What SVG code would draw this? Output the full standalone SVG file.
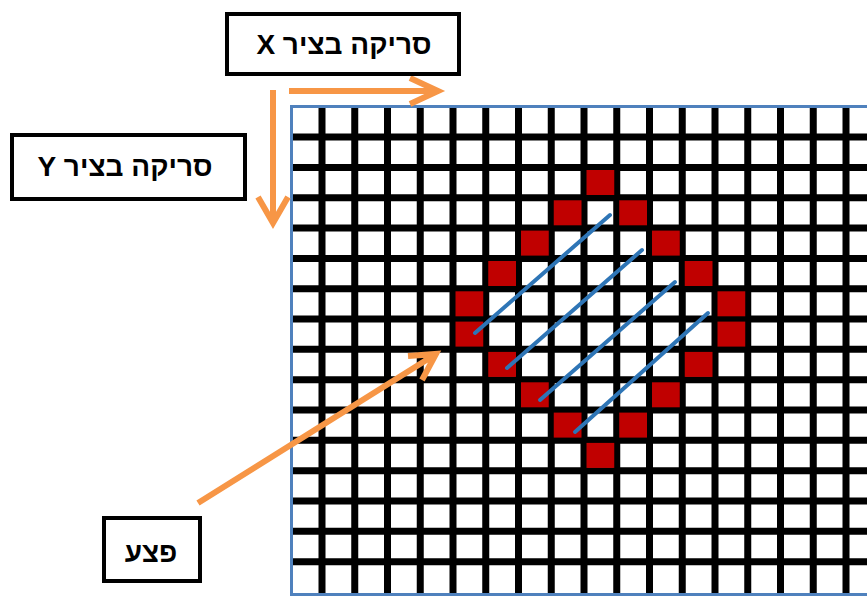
<svg xmlns="http://www.w3.org/2000/svg" width="867" height="597" viewBox="0 0 867 597">
  <style>
    .grid { stroke: #000; stroke-width: 7; fill: none; }
    .border { stroke: #4f81bd; stroke-width: 3; fill: none; }
    .cell { fill: #c00000; }
    .hatch { stroke: #2e75b6; stroke-width: 4; stroke-linecap: round; fill: none; }
    .arrow { stroke: #f79646; stroke-width: 6; fill: none; stroke-linecap: butt; stroke-linejoin: miter; }
    .box { fill: #fff; stroke: #000; stroke-width: 4; }
    .label { font-family: "Liberation Sans", "DejaVu Sans", Arial, sans-serif; font-weight: bold; font-size: 28px; fill: #000; }
  </style>
  <rect width="867" height="597" fill="#fff"/>

  <g id="grid">
    <path class="grid" d="M322,107V594 M354.75,107V594 M387.5,107V594 M420.25,107V594 M453,107V594 M485.75,107V594 M518.5,107V594 M551.25,107V594 M584,107V594 M616.75,107V594 M649.5,107V594 M682.25,107V594 M715,107V594 M747.75,107V594 M780.5,107V594 M813.25,107V594 M846,107V594
      M291,137H867 M291,167.4H867 M291,197.7H867 M291,228H867 M291,258.4H867 M291,288.7H867 M291,319H867 M291,349.3H867 M291,379.7H867 M291,410H867 M291,440.3H867 M291,470.7H867 M291,501H867 M291,531.3H867 M291,561.7H867"/>
    <path class="border" d="M867,106.5H291.5V594.5H867"/>
  </g>

  <g id="wound-cells">
    <rect class="cell" x="586.5" y="170" width="27.75" height="25"/>
    <rect class="cell" x="553.75" y="200.3" width="27.75" height="25"/>
    <rect class="cell" x="619.25" y="200.3" width="27.75" height="25"/>
    <rect class="cell" x="521" y="230.6" width="27.75" height="25"/>
    <rect class="cell" x="652" y="230.6" width="27.75" height="25"/>
    <rect class="cell" x="488.25" y="261" width="27.75" height="25"/>
    <rect class="cell" x="684.75" y="261" width="27.75" height="25"/>
    <rect class="cell" x="455.5" y="291.3" width="27.75" height="25"/>
    <rect class="cell" x="717.5" y="291.3" width="27.75" height="25"/>
    <rect class="cell" x="455.5" y="321.6" width="27.75" height="25"/>
    <rect class="cell" x="717.5" y="321.6" width="27.75" height="25"/>
    <rect class="cell" x="488.25" y="351.9" width="27.75" height="25"/>
    <rect class="cell" x="684.75" y="351.9" width="27.75" height="25"/>
    <rect class="cell" x="521" y="382.3" width="27.75" height="25"/>
    <rect class="cell" x="652" y="382.3" width="27.75" height="25"/>
    <rect class="cell" x="553.75" y="412.6" width="27.75" height="25"/>
    <rect class="cell" x="619.25" y="412.6" width="27.75" height="25"/>
    <rect class="cell" x="586.5" y="442.9" width="27.75" height="25"/>
  </g>

  <g id="hatching">
    <line class="hatch" x1="475" y1="333" x2="610" y2="215"/>
    <line class="hatch" x1="507" y1="368" x2="642" y2="250"/>
    <line class="hatch" x1="540" y1="400" x2="675" y2="282"/>
    <line class="hatch" x1="575" y1="432" x2="708" y2="313"/>
  </g>

  <g id="connectors">
    <path class="arrow" d="M289,91H438 M410,78L438,91L410,104"/>
    <path class="arrow" d="M273,90V223 M258,197L273,223L288,197"/>
    <path class="arrow" d="M198,503L436,354 M408,356L436,354L422,380"/>
  </g>

  <g id="box-x">
    <rect class="box" x="227" y="14" width="232" height="60"/>
    <text class="label" x="344" y="54" text-anchor="middle" direction="rtl">סריקה בציר X</text>
  </g>

  <g id="box-y">
    <rect class="box" x="12" y="135" width="233" height="64"/>
    <text class="label" x="125" y="176" text-anchor="middle" direction="rtl">סריקה בציר Y</text>
  </g>

  <g id="box-wound">
    <rect class="box" x="104" y="518" width="96" height="63"/>
    <text class="label" x="151" y="562" text-anchor="middle" direction="rtl">פצע</text>
  </g>
</svg>
